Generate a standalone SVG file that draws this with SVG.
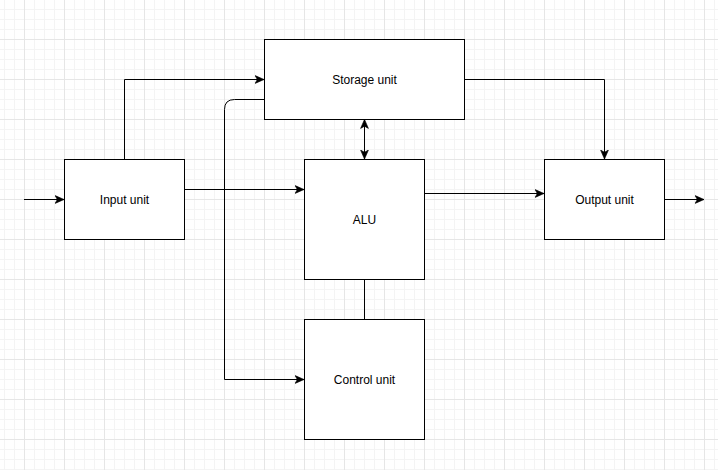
<svg xmlns="http://www.w3.org/2000/svg" width="718" height="470" viewBox="0 0 718 470">
  <defs>
    <pattern id="grid" patternUnits="userSpaceOnUse" x="24" y="39" width="40" height="40">
      <path d="M10.5,0 V40 M20.5,0 V40 M30.5,0 V40 M0,10.5 H40 M0,20.5 H40 M0,30.5 H40" stroke="#f4f4f4" stroke-width="1" fill="none"/>
      <path d="M0.5,0 V40 M0,0.5 H40" stroke="#e6e6e6" stroke-width="1" fill="none"/>
    </pattern>
    <marker id="arr" markerUnits="userSpaceOnUse" markerWidth="10" markerHeight="10" viewBox="0 0 9 8" refX="8.5" refY="4" orient="auto-start-reverse">
      <path d="M0.5,0.5 L8.5,4 L0.5,7.5 L2.5,4 Z" fill="#000" stroke="#000" stroke-width="0.6"/>
    </marker>
    <style>
      .box { fill: #fff; stroke: #000; stroke-width: 1; }
      .lbl { font-family: "Liberation Sans", Arial, Helvetica, sans-serif; font-size: 12px; fill: #000; text-anchor: middle; }
      .edge { fill: none; stroke: #000; stroke-width: 1; }
    </style>
  </defs>
  <rect width="718" height="470" fill="#fff"/>
  <rect width="718" height="470" fill="url(#grid)"/>

  <g id="connectors">
    <path class="edge" d="M24,199.5 H64" marker-end="url(#arr)"/>
    <path class="edge" d="M124.5,159 V79.5 H264" marker-end="url(#arr)"/>
    <path class="edge" d="M264,99.5 H234.5 Q224.5,99.5 224.5,109.5 V379.5 H304" marker-end="url(#arr)"/>
    <path class="edge" d="M184,189.5 H304" marker-end="url(#arr)"/>
    <path class="edge" d="M364.5,119.5 V159" marker-start="url(#arr)" marker-end="url(#arr)"/>
    <path class="edge" d="M464,79.5 H604.5 V159" marker-end="url(#arr)"/>
    <path class="edge" d="M424,193.5 H544" marker-end="url(#arr)"/>
    <path class="edge" d="M664,199.5 H704" marker-end="url(#arr)"/>
    <path class="edge" d="M364.5,279 V319"/>
  </g>

  <g id="storage">
    <rect class="box" x="264.5" y="39.5" width="200" height="80"/>
    <text class="lbl" x="364.5" y="83.5">Storage unit</text>
  </g>
  <g id="input">
    <rect class="box" x="64.5" y="159.5" width="120" height="80"/>
    <text class="lbl" x="124.5" y="203.5">Input unit</text>
  </g>
  <g id="alu">
    <rect class="box" x="304.5" y="159.5" width="120" height="120"/>
    <text class="lbl" x="364.5" y="223.5">ALU</text>
  </g>
  <g id="output">
    <rect class="box" x="544.5" y="159.5" width="120" height="80"/>
    <text class="lbl" x="604.5" y="203.5">Output unit</text>
  </g>
  <g id="control">
    <rect class="box" x="304.5" y="319.5" width="120" height="120"/>
    <text class="lbl" x="364.5" y="383.5">Control unit</text>
  </g>
</svg>
